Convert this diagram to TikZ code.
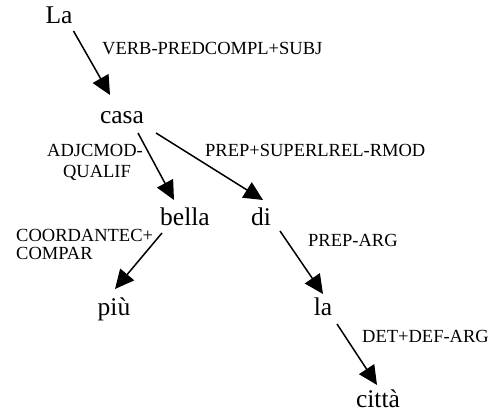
\documentclass[tikz,border=0pt]{standalone}
\usepackage{fontspec}
\setmainfont{Liberation Serif}
\usetikzlibrary{arrows.meta,calc}
\tikzset{
  word/.style={inner sep=0pt, anchor=base, font=\fontsize{25.5}{30}\selectfont},
  lbl/.style={inner sep=0pt, anchor=base west, font=\fontsize{18.5}{21}\selectfont},
  arr/.style={line width=1.5pt, -{Triangle[length=19pt,width=18pt]}}
}
\begin{document}
\begin{tikzpicture}[x=1pt,y=1pt]
\useasboundingbox (0,0) rectangle (496,414);
% words
\node[word] (La) at (59,390) {La};
\node[word] (casa) at (122,290) {casa};
\node[word] (bella) at (185,188) {bella};
\node[word] (di) at (261,188) {di};
\node[word] (piu) at (114,98) {più};
\node[word] (la) at (323,98) {la};
\node[word] (citta) at (378,6) {città};
% labels
\node[lbl] (l1) at (102,359) {VERB-PREDCOMPL+SUBJ};
\node[lbl, anchor=base] (l2a) at (95,257) {ADJCMOD-};
\node[lbl, anchor=base] (l2b) at (97,236) {QUALIF};
\node[lbl] (l3) at (205,257) {PREP+SUPERLREL-RMOD};
\node[lbl] (l4a) at (16,172) {COORDANTEC+};
\node[lbl] (l4b) at (16,154) {COMPAR};
\node[lbl] (l5) at (308,167) {PREP-ARG};
\node[lbl] (l6) at (362,71) {DET+DEF-ARG};
% edges
\draw[arr] ($(La.base)+(14.5,-7)$) -- ($(casa.base)+(-12,29)$);
\draw[arr] ($(casa.base)+(16,-9)$) -- ($(bella.base)+(-11,26)$);
\draw[arr] ($(casa.base)+(34,-9)$) -- ($(di.base)+(2,26)$);
\draw[arr] ($(bella.base)+(-23,-7)$) -- ($(piu.base)+(1,27)$);
\draw[arr] ($(di.base)+(19,-5)$) -- ($(la.base)+(0,22)$);
\draw[arr] ($(la.base)+(14,-8)$) -- ($(citta.base)+(-1,23)$);
\end{tikzpicture}
\end{document}
